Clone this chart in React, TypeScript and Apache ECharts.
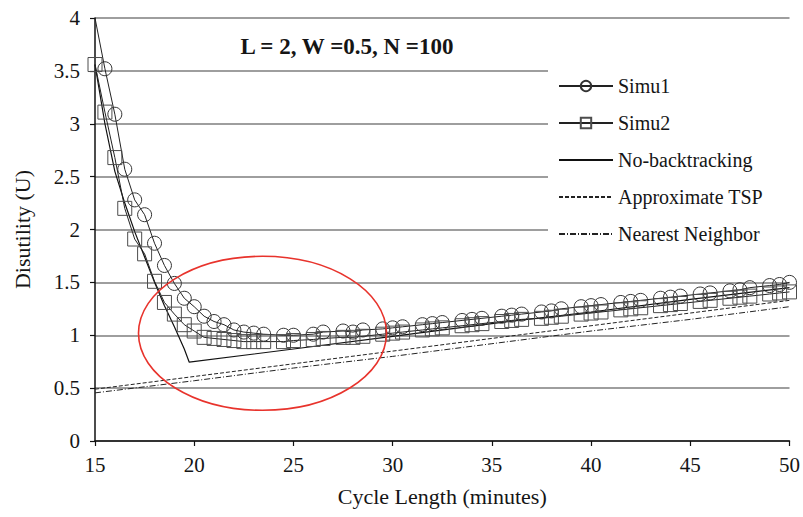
import React, { useEffect, useRef } from "react";
import * as echarts from "echarts";

const FONT = "'Liberation Serif', 'Times New Roman', serif";

const titleText = "L = 2, W =0.5, N =100";
const xAxisName = "Cycle Length (minutes)";
const yAxisName = "Disutility (U)";
const seriesNames = ["Simu1", "Simu2", "No-backtracking", "Approximate TSP", "Nearest Neighbor"];

const simuX = [15, 15.5, 16, 16.5, 17, 17.5, 18, 18.5, 19, 19.5, 20, 20.5, 21, 21.5, 22, 22.5, 23, 23.5,
  24.5, 25, 26, 26.5, 27.5, 28, 28.5, 29.5, 30, 30.5, 31.5, 32, 32.5, 33.5, 34, 34.5, 35.5, 36, 36.5,
  37.5, 38, 38.5, 39.5, 40, 40.5, 41.5, 42, 42.5, 43.5, 44, 44.5, 45.5, 46, 47, 47.5, 48, 49, 49.5, 50];

const simu1Y = [4.0, 3.52, 3.09, 2.57, 2.28, 2.14, 1.87, 1.66, 1.49, 1.35, 1.27, 1.18, 1.13, 1.1, 1.05, 1.03, 1.02, 1.01,
  1.0, 1.0, 1.01, 1.03, 1.04, 1.03, 1.05, 1.06, 1.07, 1.08, 1.1, 1.11, 1.12, 1.14, 1.15, 1.16, 1.18, 1.19, 1.2,
  1.22, 1.23, 1.25, 1.27, 1.28, 1.29, 1.31, 1.32, 1.33, 1.35, 1.36, 1.37, 1.39, 1.4, 1.42, 1.43, 1.45, 1.47, 1.48, 1.5];

const simu2Y = [3.56, 3.11, 2.68, 2.2, 1.91, 1.77, 1.51, 1.31, 1.2, 1.1, 1.04, 0.98, 0.97, 0.96, 0.95, 0.94, 0.94, 0.94,
  0.94, 0.95, 0.96, 0.97, 0.98, 0.98, 0.99, 1.01, 1.02, 1.03, 1.05, 1.06, 1.07, 1.09, 1.1, 1.11, 1.13, 1.14, 1.15,
  1.16, 1.17, 1.18, 1.2, 1.21, 1.22, 1.24, 1.25, 1.26, 1.28, 1.29, 1.3, 1.32, 1.33, 1.35, 1.36, 1.37, 1.39, 1.4, 1.41];

const noBackX = [15, 15.5, 16, 16.5, 17, 17.5, 18, 18.5, 19, 19.5, 19.75, 25, 30, 35, 40, 45, 50];
const noBackY = [3.56, 3.0, 2.55, 2.25, 1.98, 1.74, 1.5, 1.28, 1.08, 0.87, 0.745, 0.87, 0.99, 1.11, 1.22, 1.34, 1.45];

const lineX = [15, 20, 25, 30, 35, 40, 45, 50];
const tspY = [0.49, 0.61, 0.73, 0.85, 0.97, 1.09, 1.21, 1.33];
const nnY = [0.455, 0.57, 0.69, 0.8, 0.92, 1.04, 1.15, 1.27];

const pairs = (xs: number[], ys: number[]) => xs.map((x, i) => [x, ys[i]]);

export default function App() {
  const ref = useRef<HTMLDivElement>(null);
  useEffect(() => {
    if (!ref.current) return;
    const chart = echarts.init(ref.current, null, { renderer: "svg" });
    const textColor = "#151515";
    // first Simu1 point sits on the plot's top edge; its marker is not drawn there
    const simu1Data: any[] = pairs(simuX, simu1Y).map((p, i) =>
      i === 0 ? { value: p, symbol: "none" } : p
    );
    chart.setOption({
      animation: false,
      backgroundColor: "#fff",
      textStyle: { fontFamily: FONT },
      grid: { left: 95, right: 11, top: 18, bottom: 76, containLabel: false },
      xAxis: {
        type: "value",
        min: 15,
        max: 50,
        interval: 5,
        name: xAxisName,
        nameLocation: "middle",
        nameGap: 44,
        nameTextStyle: { fontFamily: FONT, fontSize: 22, color: textColor },
        axisLine: { show: true, lineStyle: { color: "#111", width: 1.5 } },
        axisTick: { show: true, inside: false, length: 5, lineStyle: { color: "#111", width: 1.2 } },
        axisLabel: { fontFamily: FONT, fontSize: 21, color: textColor, margin: 13 },
        splitLine: { show: false },
      },
      yAxis: {
        type: "value",
        min: 0,
        max: 4,
        interval: 0.5,
        name: yAxisName,
        nameLocation: "middle",
        nameRotate: 90,
        nameGap: 62,
        nameTextStyle: { fontFamily: FONT, fontSize: 22, color: textColor },
        axisLine: { show: true, onZero: false, lineStyle: { color: "#111", width: 1.5 } },
        axisTick: { show: true, inside: false, length: 5, lineStyle: { color: "#111", width: 1.2 } },
        axisLabel: { fontFamily: FONT, fontSize: 21, color: textColor, margin: 15 },
        splitLine: { show: true, lineStyle: { color: "#9e9e9e", width: 1.8 } },
      },
      legend: {
        orient: "vertical",
        left: 548,
        top: 62,
        padding: [14, 30, 11, 10],
        itemWidth: 54,
        itemHeight: 13,
        itemGap: 17,
        backgroundColor: "#fff",
        textStyle: { fontFamily: FONT, fontSize: 20, lineHeight: 20, color: textColor },
        data: [
          { name: seriesNames[0] },
          { name: seriesNames[1] },
          { name: seriesNames[2], itemStyle: { opacity: 0 } },
          { name: seriesNames[3], itemStyle: { opacity: 0 } },
          { name: seriesNames[4], itemStyle: { opacity: 0 } },
        ],
      },
      graphic: [
        {
          type: "text",
          x: 347,
          y: 46,
          style: {
            text: titleText,
            fontFamily: FONT,
            fontSize: 23,
            fontWeight: "bold",
            fill: textColor,
            textAlign: "center",
            textVerticalAlign: "middle",
          },
          z: 100,
        },
        {
          type: "ellipse",
          shape: { cx: 262.5, cy: 333.3, rx: 124, ry: 77 },
          style: { fill: "none", stroke: "#e8332c", lineWidth: 1.6 },
          z: 100,
        },
      ],
      series: [
        {
          name: seriesNames[0],
          type: "line",
          data: simu1Data,
          symbol: "circle",
          symbolSize: 14,
          clip: false,
          lineStyle: { color: "#222", width: 1 },
          itemStyle: { color: "rgba(255,255,255,0)", borderColor: "#333", borderWidth: 1 },
          z: 3,
        },
        {
          name: seriesNames[1],
          type: "line",
          data: pairs(simuX, simu2Y),
          symbol: "rect",
          symbolSize: 14,
          clip: false,
          lineStyle: { color: "#222", width: 1 },
          itemStyle: { color: "rgba(255,255,255,0)", borderColor: "#4d4d4d", borderWidth: 1 },
          z: 3,
        },
        {
          name: seriesNames[2],
          type: "line",
          data: pairs(noBackX, noBackY),
          symbol: "none",
          lineStyle: { color: "#111", width: 1.2 },
          itemStyle: { color: "#111" },
          z: 2,
        },
        {
          name: seriesNames[3],
          type: "line",
          data: pairs(lineX, tspY),
          symbol: "none",
          lineStyle: { color: "#222", width: 1, type: [4, 2] },
          itemStyle: { color: "#222" },
          z: 2,
        },
        {
          name: seriesNames[4],
          type: "line",
          data: pairs(lineX, nnY),
          symbol: "none",
          lineStyle: { color: "#222", width: 1, type: [6, 2, 1, 2] },
          itemStyle: { color: "#222" },
          z: 2,
        },
      ],
    });
    return () => chart.dispose();
  }, []);
  return (
    <div
      ref={ref}
      style={{ position: "fixed", left: 0, top: 0, width: 803, height: 517, background: "#fff" }}
    />
  );
}
